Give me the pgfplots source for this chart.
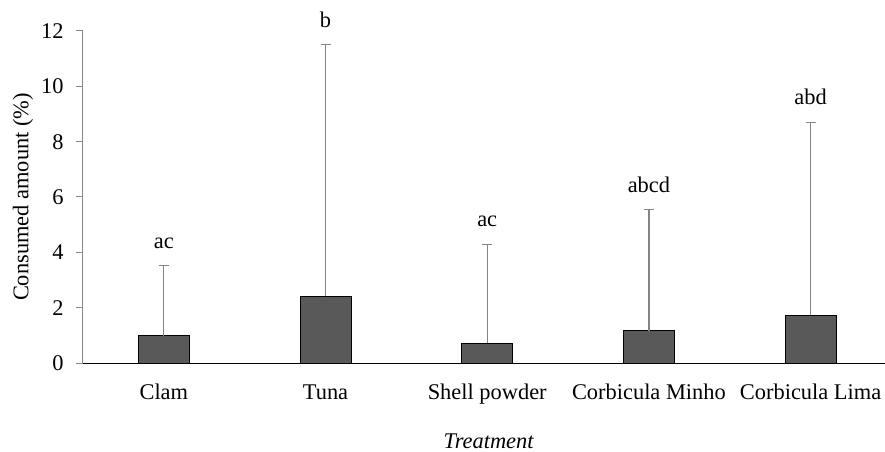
\documentclass[border=0pt]{standalone}
\usepackage{fontspec}
\setmainfont{Liberation Serif}
\usepackage{pgfplots}
\pgfplotsset{compat=1.18}
\definecolor{barfill}{HTML}{595959}
\definecolor{errgray}{HTML}{858585}
\definecolor{axgray}{HTML}{868686}
\newcommand{\fs}{\fontsize{22.5}{27}\selectfont}
\begin{document}
\begin{tikzpicture}
\begin{axis}[
  scale only axis, width=802bp, height=332bp,
  xmin=-0.5, xmax=4.46, ymin=0, ymax=12,
  ytick={0,2,4,6,8,10,12},
  xtick={0,1,2,3,4},
  xticklabels={Clam,Tuna,Shell powder,Corbicula Minho,Corbicula Lima},
  axis lines*=left,
  x axis line style={black, line width=1bp},
  y axis line style={axgray, line width=1bp},
  major x tick style={draw=none},
  major y tick style={axgray, line width=1bp},
  tick align=outside, major tick length=7bp,
  /pgf/number format/assume math mode=true,
  tick label style={font=\fs},
  yticklabel style={xshift=-9bp},
  xticklabel style={anchor=base, yshift=-29bp},
  ylabel={Consumed amount (\%)},
  xlabel={\textit{Treatment}},
  every axis y label/.style={at={(axis description cs:-0.0748,0.5)}, rotate=90, anchor=center, font=\fs},
  every axis x label/.style={at={(axis description cs:0.506,-0.235)}, anchor=center, font=\fs},
  ybar, bar width=51bp,
  clip=false,
]
\addplot[fill=barfill, draw=black, line width=1bp,
  error bars/.cd, y dir=plus, y explicit,
  error bar style={errgray, line width=1.2bp},
  error mark options={errgray, rotate=90, mark size=5bp, line width=1.2bp}]
  coordinates {
  (0,0.98) +- (0,2.54)
  (1,2.42) +- (0,9.08)
  (2,0.71) +- (0,3.58)
  (3,1.17) +- (0,4.37)
  (4,1.73) +- (0,6.97)
  };
\node[anchor=base, font=\fs, yshift=17.5bp] at (axis cs:0,3.52) {ac};
\node[anchor=base, font=\fs, yshift=17.5bp] at (axis cs:1,11.50) {b};
\node[anchor=base, font=\fs, yshift=17.5bp] at (axis cs:2,4.29) {ac};
\node[anchor=base, font=\fs, yshift=17.5bp] at (axis cs:3,5.54) {abcd};
\node[anchor=base, font=\fs, yshift=17.5bp] at (axis cs:4,8.70) {abd};
\end{axis}
\pgfresetboundingbox
\useasboundingbox ([shift={(-83bp,-89bp)}]current axis.south west) rectangle ([shift={(0bp,31bp)}]current axis.north east);
\end{tikzpicture}
\end{document}
